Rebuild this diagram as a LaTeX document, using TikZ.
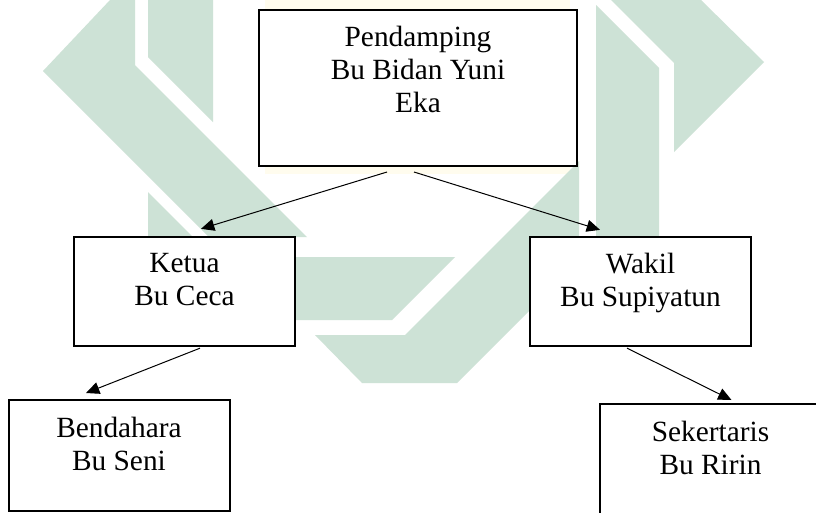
\documentclass[tikz,border=0pt]{standalone}
\usepackage{fontspec}
\setmainfont{Liberation Serif}
\usetikzlibrary{arrows.meta,positioning,calc}
\definecolor{logogreen}{RGB}{205,226,214}
\definecolor{logoyellow}{RGB}{255,252,238}

\begin{document}
\begin{tikzpicture}[x=0.75pt,y=-0.75pt]
\tikzstyle{box}=[draw,line width=1.5pt,fill=white,inner sep=0pt,minimum width=165.75pt,minimum height=82pt]
\tikzstyle{txt}=[align=center,inner sep=0pt,font=\fontsize{22}{24.75}\selectfont]
\tikzstyle{link}=[-{Triangle[length=10pt,width=9pt]},line width=0.75pt]
\tikzstyle{logo}=[fill=logogreen]

\useasboundingbox[fill=white] (0,0) rectangle (816,512);

\fill[logoyellow] (265,0) rectangle (570,174);
\fill[logo] (110,0) -- (135,0) -- (135,65) -- (307,237) -- (209,237) -- (43,71) -- cycle;
\fill[logo] (148,0) -- (213,0) -- (213,122) -- (148,57) -- cycle;
\fill[logo] (148,192) -- (193,237) -- (148,237) -- cycle;
\fill[logo] (596,5) -- (659,68) -- (659,237) -- (596,237) -- cycle;
\fill[logo] (611,0) -- (701,0) -- (764,62) -- (674,152) -- (674,63) -- cycle;
\fill[logo] (280,257) -- (455,257) -- (392,320) -- (280,320) -- cycle;
\fill[logo] (315,335) -- (405,335) -- (579,161) -- (579,261) -- (457,383) -- (362,383) -- cycle;

\node[box,minimum width=238.5pt,minimum height=117pt] (pend) at (418,88) {};
\node[box] (ketua) at (184.5,291.5) {};
\node[box] (wakil) at (640.5,291.5) {};
\node[box,minimum height=83.25pt] (bendahara) at (119,455.5) {};
\node[box,minimum height=83.25pt] (sekertaris) at (710.5,459.5) {};

\node[txt,below=12.75pt of pend.north] (pendtxt) {Pendamping\\Bu Bidan Yuni\\Eka};
\node[txt,below=12.75pt of ketua.north] (ketuatxt) {Ketua\\Bu Ceca};
\node[txt,below=12.75pt of wakil.north] (wakiltxt) {Wakil\\Bu Supiyatun};
\node[txt,below=13.5pt of bendahara.north] (bendaharatxt) {Bendahara\\Bu Seni};
\node[txt,below=13.5pt of sekertaris.north] (sekertaristxt) {Sekertaris\\Bu Ririn};

\draw[link] ($(pend.south)+(-31,5)$) -- ($(ketua.north)+(16.5,-7)$);
\draw[link] ($(pend.south)+(-4,5)$) -- ($(wakil.north)+(-40.5,-6)$);
\draw[link] ($(ketua.south)+(15.5,1)$) -- ($(bendahara.north)+(-33,-6)$);
\draw[link] ($(wakil.south)+(-13.5,1)$) -- ($(sekertaris.north)+(21,-3)$);
\end{tikzpicture}
\end{document}
